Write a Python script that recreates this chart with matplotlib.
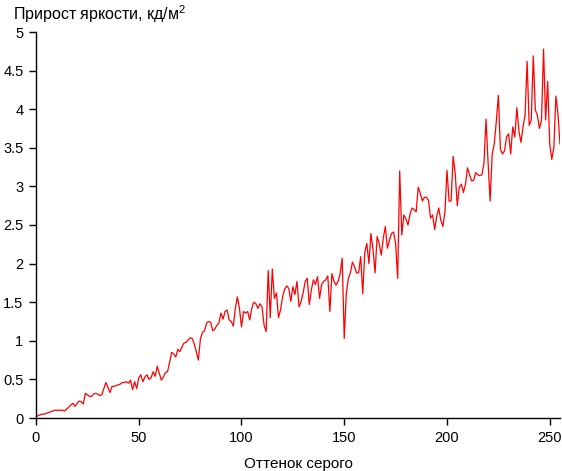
import matplotlib
matplotlib.use("Agg")
import matplotlib.pyplot as plt
import numpy as np

# Оттенок серого 0..255 и прирост яркости (кд/м2)
gray = np.arange(256)
delta = [
    0.02, 0.03, 0.04, 0.05, 0.05, 0.06, 0.07, 0.08, 0.09, 0.10,
    0.10, 0.10, 0.10, 0.10, 0.09, 0.12, 0.14, 0.17, 0.19, 0.15,
    0.19, 0.22, 0.21, 0.18, 0.32, 0.30, 0.28, 0.28, 0.31, 0.32,
    0.31, 0.29, 0.30, 0.38, 0.46, 0.40, 0.33, 0.41, 0.41, 0.42,
    0.43, 0.44, 0.46, 0.46, 0.47, 0.45, 0.49, 0.37, 0.47, 0.38,
    0.52, 0.56, 0.47, 0.53, 0.56, 0.50, 0.52, 0.60, 0.54, 0.67,
    0.58, 0.49, 0.53, 0.59, 0.60, 0.72, 0.85, 0.83, 0.79, 0.89,
    0.86, 0.92, 0.97, 0.98, 1.01, 1.04, 1.03, 0.96, 0.86, 0.75,
    1.02, 1.11, 1.13, 1.23, 1.25, 1.24, 1.13, 1.15, 1.20, 1.23,
    1.36, 1.28, 1.38, 1.40, 1.27, 1.25, 1.19, 1.42, 1.57, 1.42,
    1.18, 1.38, 1.36, 1.38, 1.27, 1.42, 1.50, 1.48, 1.42, 1.48,
    1.44, 1.20, 1.12, 1.91, 1.30, 1.93, 1.55, 1.62, 1.30, 1.40,
    1.57, 1.67, 1.71, 1.68, 1.51, 1.70, 1.60, 1.77, 1.44, 1.51,
    1.62, 1.77, 1.81, 1.47, 1.66, 1.79, 1.73, 1.83, 1.55, 1.73,
    1.77, 1.79, 1.84, 1.38, 1.87, 1.77, 1.72, 1.77, 1.87, 2.07,
    1.03, 1.61, 1.81, 1.88, 2.02, 1.96, 1.88, 1.88, 2.09, 1.61,
    2.15, 2.26, 2.00, 2.39, 2.18, 1.88, 2.35, 2.26, 2.11, 2.33,
    2.48, 2.20, 2.30, 2.39, 2.41, 2.26, 1.81, 3.20, 2.37, 2.63,
    2.58, 2.50, 2.64, 2.72, 2.70, 2.67, 2.99, 2.91, 2.81, 2.86,
    2.86, 2.82, 2.59, 2.63, 2.44, 2.61, 2.72, 2.56, 2.48, 2.67,
    3.21, 2.81, 2.81, 3.39, 3.17, 2.75, 2.99, 3.03, 2.92, 3.03,
    3.24, 3.15, 3.07, 3.08, 3.18, 3.15, 3.14, 3.15, 3.30, 3.87,
    3.31, 2.81, 3.42, 3.55, 3.84, 4.18, 3.48, 3.42, 3.46, 3.64,
    3.68, 3.42, 3.77, 3.64, 4.02, 3.72, 3.57, 3.77, 3.92, 4.62,
    3.79, 3.86, 4.69, 3.99, 3.92, 3.75, 3.86, 4.78, 3.86, 4.36,
    3.55, 3.35, 3.50, 4.17, 3.94, 3.55,
]

yticks = [0, 0.5, 1, 1.5, 2, 2.5, 3, 3.5, 4, 4.5, 5]
ytick_labels = ["0", "0.5", "1", "1.5", "2", "2.5", "3", "3.5", "4", "4.5", "5"]
xticks = [0, 50, 100, 150, 200, 250]

plt.rcParams["font.family"] = ["Liberation Sans", "DejaVu Sans"]
plt.rcParams["mathtext.fontset"] = "custom"
plt.rcParams["mathtext.rm"] = "Liberation Sans"
plt.rcParams["mathtext.it"] = "Liberation Sans"

fig = plt.figure(figsize=(5.62, 4.71), dpi=100)
ax = fig.add_axes([36 / 562, 1 - 418 / 471, 524 / 562, 386 / 471])

ax.plot(gray, delta, color="#ff0000", linewidth=0.9)

ax.set_xlim(0, 255)
ax.set_ylim(0, 5)
ax.set_xticks(xticks)
ax.set_yticks(yticks)
ax.set_yticklabels(ytick_labels)
ax.tick_params(direction="out", length=5, width=1, labelsize=10.5, pad=4)

for side in ["top", "right"]:
    ax.spines[side].set_visible(False)
for side in ["left", "bottom"]:
    ax.spines[side].set_linewidth(1.0)

ax.set_xlabel("Оттенок серого", fontsize=11, labelpad=9)
fig.text(13 / 562, 1 - 3 / 471, "Прирост яркости, кд/м$^2$",
         ha="left", va="top", fontsize=11.5)

fig.savefig("out.png", dpi=100)
